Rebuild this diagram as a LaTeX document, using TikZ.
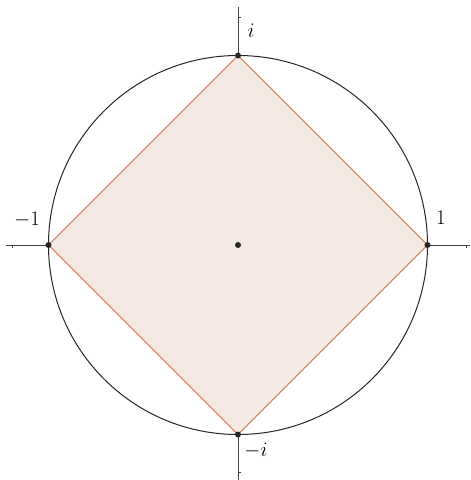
\documentclass[tikz,border=0pt]{standalone}
\begin{document}
\begin{tikzpicture}[x=1pt,y=-1pt,
  axis/.style={draw=black!75, line width=0.9pt},
  circ/.style={draw=black!85, line width=1pt},
  sq/.style={draw={rgb,255:red,214;green,112;blue,78}, fill={rgb,255:red,245;green,233;blue,228}, line width=0.8pt},
  pt/.style={circle, fill=black!85, inner sep=0pt, minimum size=6pt},
  lab/.style={font=\fontsize{20}{22}\selectfont, inner sep=0pt}]
\useasboundingbox (0,0) rectangle (471,480);
\coordinate (O) at (238,245);
\coordinate (xl) at (6,245);
\coordinate (xr) at (470,245);
\coordinate (yt) at (238,7);
\coordinate (yb) at (238,480);
\draw[axis] (xl) -- (xr);
\draw[axis] (yt) -- (yb);
\draw[axis, line width=0.6pt] (12,245) -- (12,247.5);
\draw[axis, line width=0.6pt] (466,245) -- (466,247.5);
\draw[axis, line width=0.6pt] (238,17) -- (240.5,17);
\draw[axis, line width=0.6pt] (238,472) -- (240.5,472);
\draw[circ] (O) circle (189.5);
\coordinate (A) at (427.5,245);
\coordinate (B) at (238,55.5);
\coordinate (C) at (48.5,245);
\coordinate (D) at (238,434.5);
\draw[sq] (A) -- (B) -- (C) -- (D) -- cycle;
\node[pt] (pA) at (A) {};
\node[pt] (pB) at (B) {};
\node[pt] (pC) at (C) {};
\node[pt] (pD) at (D) {};
\node[pt] (pO) at (O) {};
\node[lab] (li) at (251,31) {$i$};
\node[lab] (lm1) at (27,220) {$-1$};
\node[lab] (l1) at (441,218) {$1$};
\node[lab] (lmi) at (256,451) {$-i$};
\end{tikzpicture}
\end{document}
